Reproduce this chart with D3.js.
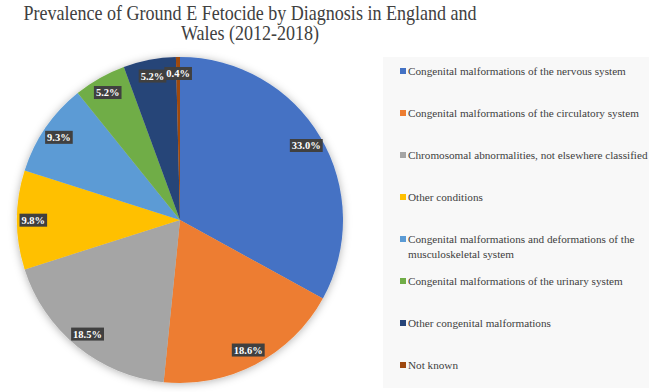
<!DOCTYPE html>
<html>
<head>
<meta charset="utf-8">
<script src="https://cdn.jsdelivr.net/npm/d3@7"></script>
<style>
  body { margin: 0; background: #fff; }
  svg { display: block; }
</style>
</head>
<body>
<div id="chart"></div>
<script>
const titleLines = ["Prevalence of Ground E Fetocide by Diagnosis in England and", "Wales (2012-2018)"];

const categories = [
    "Congenital malformations of the nervous system",
    "Congenital malformations of the circulatory system",
    "Chromosomal abnormalities, not elsewhere classified",
    "Other conditions",
    "Congenital malformations and deformations of the musculoskeletal system",
    "Congenital malformations of the urinary system",
    "Other congenital malformations",
    "Not known"
];
const shares = [33.0, 18.6, 18.5, 9.8, 9.3, 5.2, 5.2, 0.4];
const colors = ["#4472C4", "#ED7D31", "#A5A5A5", "#FFC000", "#5B9BD5", "#70AD47", "#264478", "#9E480E"];
// legend text broken into lines, as in the picture
const legendLines = [
    ["Congenital malformations of the nervous system"],
    ["Congenital malformations of the circulatory system"],
    ["Chromosomal abnormalities, not elsewhere classified"],
    ["Other conditions"],
    ["Congenital malformations and deformations of the", "musculoskeletal system"],
    ["Congenital malformations of the urinary system"],
    ["Other congenital malformations"],
    ["Not known"]
];

const width = 649, height = 392;
const serif = "'Liberation Serif', 'Times New Roman', serif";

const svg = d3.select("#chart").append("svg")
    .attr("width", width)
    .attr("height", height);

const defs = svg.append("defs");
const shadow = defs.append("filter")
    .attr("id", "pieShadow")
    .attr("x", "-20%").attr("y", "-20%")
    .attr("width", "140%").attr("height", "140%");
shadow.append("feDropShadow")
    .attr("dx", 0).attr("dy", 1)
    .attr("stdDeviation", 4)
    .attr("flood-color", "#000")
    .attr("flood-opacity", 0.3);

// title (narrow serif, so squeeze it a bit horizontally)
svg.append("g")
    .attr("transform", "translate(250,0) scale(0.88,1)")
    .selectAll("text")
    .data(titleLines)
    .enter().append("text")
    .attr("x", 0)
    .attr("y", (d, i) => 20 + i * 20)
    .attr("text-anchor", "middle")
    .style("font-family", serif)
    .style("font-size", "20.5px")
    .style("fill", "#404040")
    .text(d => d);

// pie
const cx = 180, cy = 220, radius = 163;
const data = categories.map((c, i) => ({ name: c, value: shares[i], color: colors[i] }));

const pie = d3.pie().sort(null).value(d => d.value);
const arc = d3.arc().innerRadius(0).outerRadius(radius);
const labelArc = d3.arc().innerRadius(radius * 0.9).outerRadius(radius * 0.9);

const gPie = svg.append("g")
    .attr("transform", `translate(${cx},${cy})`);

gPie.append("g")
    .attr("filter", "url(#pieShadow)")
    .selectAll("path")
    .data(pie(data))
    .enter().append("path")
    .attr("d", arc)
    .attr("fill", d => d.data.color);

const labels = gPie.append("g").selectAll("g")
    .data(pie(data))
    .enter().append("g")
    .attr("transform", d => `translate(${labelArc.centroid(d)})`);

labels.append("text")
    .attr("text-anchor", "middle")
    .attr("dy", "0.35em")
    .style("font-family", serif)
    .style("font-size", "10.5px")
    .style("font-weight", "bold")
    .style("fill", "#fff")
    .text(d => d.data.value.toFixed(1) + "%");

labels.each(function () {
    const g = d3.select(this);
    const bb = g.select("text").node().getBBox();
    g.insert("rect", "text")
        .attr("x", bb.x - 2)
        .attr("y", bb.y - 1)
        .attr("width", bb.width + 4)
        .attr("height", bb.height + 2)
        .attr("fill", "#404040");
});

// legend
const legendBox = { x: 383, y: 57, w: 266, h: 331 };
svg.append("rect")
    .attr("x", legendBox.x)
    .attr("y", legendBox.y)
    .attr("width", legendBox.w)
    .attr("height", legendBox.h)
    .attr("fill", "#f8f8f8");

const legendY = d3.scalePoint()
    .domain(categories)
    .range([71, 365]);

const items = svg.append("g").selectAll("g")
    .data(data)
    .enter().append("g")
    .attr("transform", d => `translate(400,${legendY(d.name)})`);

items.append("rect")
    .attr("x", 0)
    .attr("y", -3)
    .attr("width", 6)
    .attr("height", 6)
    .attr("fill", d => d.color);

items.append("text")
    .style("font-family", serif)
    .style("font-size", "11.2px")
    .style("fill", "#404040")
    .selectAll("tspan")
    .data((d, i) => legendLines[i])
    .enter().append("tspan")
    .attr("x", 8)
    .attr("y", (d, i) => i * 15)
    .attr("dy", "0.35em")
    .text(d => d);
</script>
</body>
</html>
